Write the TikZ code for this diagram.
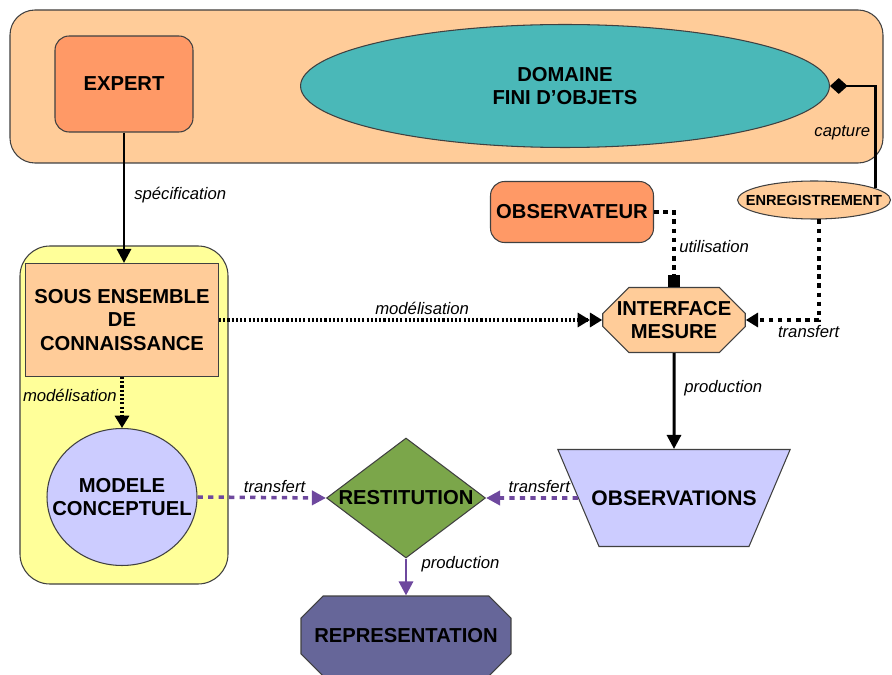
\documentclass[tikz,border=0pt]{standalone}
\usepackage{fontspec}
\setmainfont{Liberation Sans}
\usetikzlibrary{shapes, arrows.meta, positioning}
\definecolor{peche}{RGB}{255,204,153}
\definecolor{saumon}{RGB}{255,153,102}
\definecolor{turquoise}{RGB}{74,184,184}
\definecolor{jaune}{RGB}{255,255,153}
\definecolor{lavande}{RGB}{204,204,255}
\definecolor{olive}{RGB}{123,166,74}
\definecolor{ardoise}{RGB}{102,102,153}
\definecolor{violet}{RGB}{110,72,158}

\begin{document}
\begin{tikzpicture}[x=0.02cm, y=-0.02cm,
  gras/.style={font=\fontsize{11.5}{13.5}\selectfont\bfseries, align=center},
  boite/.style={gras, draw=black!75, line width=0.6pt, inner sep=0pt},
  etiq/.style={black, font=\fontsize{9.5}{11}\selectfont\itshape, inner sep=2pt},
  plein/.style={line width=1.7pt, -{Triangle[length=8pt,width=8pt]}},
  pointille/.style={line width=2pt, dash pattern=on 1.2pt off 1.2pt},
  tirets/.style={line width=2pt, dash pattern=on 2.6pt off 2.6pt},
  violets/.style={violet, line width=2pt, dash pattern=on 3pt off 3pt, -{Triangle[length=8pt,width=8pt]}}]
\useasboundingbox (0,0) rectangle (892,675);

\draw[draw=black!75, line width=0.6pt, fill=peche, rounded corners=0.5cm] (10,10) rectangle (883,163);
\draw[draw=black!75, line width=0.6pt, fill=jaune, rounded corners=0.6cm] (20,246) rectangle (228,584);

\node[boite, fill=saumon, rounded corners=8pt, minimum width=2.76cm, minimum height=1.92cm] (expert) at (124,84) {EXPERT};
\node[boite, fill=turquoise, ellipse, minimum width=10.58cm, minimum height=2.46cm] (domaine) at (565,86) {DOMAINE\\FINI D'OBJETS};
\node[boite, fill=peche, ellipse, minimum width=3.06cm, minimum height=0.76cm,
  label={[gras, font=\fontsize{8.3}{10}\selectfont\bfseries]center:ENREGISTREMENT}] (enreg) at (814,200) {};
\node[boite, fill=saumon, rounded corners=8pt, minimum width=3.26cm, minimum height=1.22cm] (observ) at (572,212) {OBSERVATEUR};
\node[boite, fill=peche, chamfered rectangle, chamfered rectangle xsep=0.28cm, chamfered rectangle ysep=0.24cm,
  minimum width=2.84cm, minimum height=1.3cm] (iface) at (674,320) {INTERFACE\\MESURE};
\node[boite, fill=lavande, trapezium, shape border rotate=180, trapezium angle=67,
  text width=3cm, text height=1.94cm, text depth=0pt,
  label={[gras, font=\fontsize{12}{14}\selectfont\bfseries]center:OBSERVATIONS}] (obsv) at (674,498) {};
\node[boite, fill=peche, minimum width=3.86cm, minimum height=2.26cm] (sous) at (122,320) {SOUS ENSEMBLE\\DE\\CONNAISSANCE};
\node[boite, fill=lavande, ellipse, minimum width=3cm, minimum height=2.74cm,
  label={[gras]center:MODELE\\CONCEPTUEL}] (modele) at (122,497) {};
\node[boite, fill=olive, diamond, minimum width=3.18cm, minimum height=2.4cm,
  label={[gras]center:RESTITUTION}] (restit) at (406,498) {};
\node[boite, fill=ardoise, chamfered rectangle, chamfered rectangle xsep=0.34cm, chamfered rectangle ysep=0.3cm,
  minimum width=4.2cm, minimum height=1.6cm] (repr) at (406,636) {REPRESENTATION};

\draw[plein] (expert.south) -- (expert.south |- sous.north) node[etiq, right=3pt, pos=.48] {spécification};
\draw[line width=1.7pt, -{Diamond[length=10pt,width=9pt]}] (enreg.11) |- (domaine.east) node[etiq, left, pos=.27] {capture};
\draw[tirets, -{Square[length=7pt,width=7pt]}] (observ.east) -| (iface.north) node[etiq, right, pos=.73] {utilisation};
\draw[pointille, -{Triangle[length=7pt,width=8pt] Triangle[length=7pt,width=8pt]}] (sous.east) -- (iface.west) node[etiq, above, pos=.53] {modélisation};
\draw[tirets, -{Triangle[length=7pt,width=8pt]}] (enreg.-76) |- (iface.east) node[etiq, below, pos=.57] {transfert};
\draw[plein] (iface.south) -- (obsv.north) node[etiq, right=3pt, pos=.37] {production};
\draw[pointille, -{Triangle[length=7pt,width=8pt]}] (sous.south) -- (modele.north) node[etiq, left, pos=.36] {modélisation};
\draw[violets] (modele.east) -- (restit.west) node[etiq, above, pos=.6] {transfert};
\draw[violets] (obsv.west) -- (restit.east) node[etiq, above, pos=.42] {transfert};
\draw[violet, line width=1.7pt, -{Triangle[length=8pt,width=8pt]}] (restit.south) -- (repr.north) node[etiq, right=6pt, pos=.15] {production};
\end{tikzpicture}
\end{document}
